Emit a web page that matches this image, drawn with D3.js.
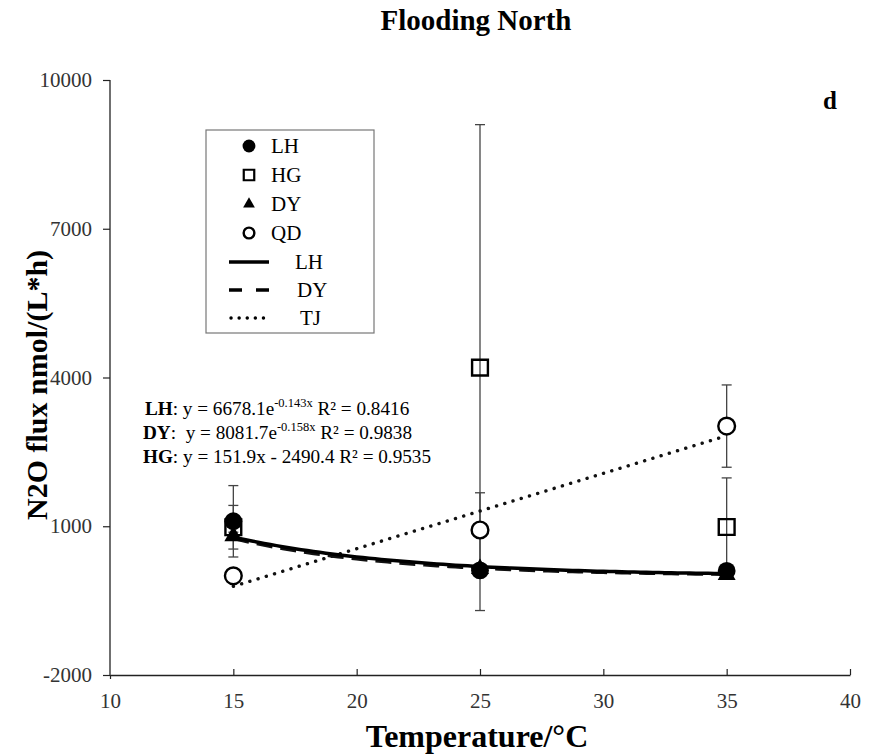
<!DOCTYPE html>
<html>
<head>
<meta charset="utf-8">
<script src="https://cdn.jsdelivr.net/npm/d3@7"></script>
<style>
  body { margin: 0; background: #fff; }
  text { font-family: "Liberation Serif", "Times New Roman", serif; white-space: pre; }
</style>
</head>
<body>
<div id="chart"></div>
<script>
// temperatures (x) and mean flux per site
const temps = [15, 25, 35];
const lhMean = [1100, 110, 100];
const lhErr = [720, 60, 60];
const hgMean = [980, 4200, 985];
const hgErr = [440, 4900, 990];
const dyMean = [800, 140, 20];
const dyErr = [80, 60, 40];
const qdMean = [0, 925, 3020];
const qdErr = [60, 750, 830];

// fitted trend lines (coefficients printed on chart)
const lhFit = [6678.1, -0.143];
const dyFit = [8081.7, -0.158];
const tjFit = [151.9, -2490.4];

const xTicks = [10, 15, 20, 25, 30, 35, 40];
const yTicks = [-2000, 1000, 4000, 7000, 10000];

const W = 879, H = 755;
const margin = { top: 80, right: 29, bottom: 80, left: 110 };

const svg = d3.select('#chart')
  .append('svg')
  .attr('width', W)
  .attr('height', H);

const x = d3.scaleLinear().domain([10, 40]).range([margin.left, W - margin.right]);
const y = d3.scaleLinear().domain([-2000, 10000]).range([H - margin.bottom, margin.top]);

// axes
const yAxis = svg.append('g')
  .attr('transform', `translate(${margin.left},0)`)
  .call(d3.axisLeft(y).tickValues(yTicks).tickSize(7).tickPadding(11).tickFormat(d => String(d)));
const xAxis = svg.append('g')
  .attr('transform', `translate(0,${H - margin.bottom})`)
  .call(d3.axisBottom(x).tickValues(xTicks).tickSize(-6).tickPadding(18).tickSizeOuter(0));

[xAxis, yAxis].forEach(a => {
  a.select('.domain').attr('stroke', '#222').attr('stroke-width', 1.3);
  a.selectAll('.tick line').attr('stroke', '#222').attr('stroke-width', 1.2);
  a.selectAll('.tick text')
    .attr('fill', '#333')
    .style('font-family', '"Liberation Serif", serif')
    .style('font-size', '21px');
});
yAxis.select('.domain').attr('d', `M0,${y(-2000)}V${y(10000)}`);
xAxis.select('.tick line').attr('y2', 4);

// titles
svg.append('text')
  .attr('x', 476).attr('y', 30)
  .attr('text-anchor', 'middle')
  .style('font-size', '29px').style('font-weight', 'bold')
  .text('Flooding North');

svg.append('text')
  .attr('x', 477).attr('y', 747)
  .attr('text-anchor', 'middle')
  .style('font-size', '32px').style('font-weight', 'bold')
  .text('Temperature/°C');

svg.append('text')
  .attr('transform', `translate(47,${y(3850)}) rotate(-90)`)
  .attr('text-anchor', 'middle')
  .style('font-size', '30px').style('font-weight', 'bold')
  .text('N2O flux nmol/(L*h)');

svg.append('text')
  .attr('x', 830).attr('y', 109)
  .attr('text-anchor', 'middle')
  .style('font-size', '25px').style('font-weight', 'bold')
  .text('d');

// error bars
const series = [
  { mean: hgMean, err: hgErr },
  { mean: qdMean, err: qdErr },
  { mean: lhMean, err: lhErr },
  { mean: dyMean, err: dyErr }
];
const errG = svg.append('g').attr('stroke', '#444').attr('stroke-width', 1.3);
series.forEach(s => {
  temps.forEach((t, i) => {
    const cx = x(t), hi = y(s.mean[i] + s.err[i]), lo = y(s.mean[i] - s.err[i]);
    errG.append('line').attr('x1', cx).attr('x2', cx).attr('y1', hi).attr('y2', lo);
    errG.append('line').attr('x1', cx - 5).attr('x2', cx + 5).attr('y1', hi).attr('y2', hi);
    errG.append('line').attr('x1', cx - 5).attr('x2', cx + 5).attr('y1', lo).attr('y2', lo);
  });
});

// trend lines
const fitX = d3.range(15, 35.001, 0.25);
const line = d3.line().x(d => x(d[0])).y(d => y(d[1]));

svg.append('path')
  .datum(fitX.map(v => [v, tjFit[0] * v + tjFit[1]]))
  .attr('d', line)
  .attr('fill', 'none').attr('stroke', '#111')
  .attr('stroke-width', 3.4).attr('stroke-linecap', 'round')
  .attr('stroke-dasharray', '0.1 8.5');

svg.append('path')
  .datum(fitX.map(v => [v, dyFit[0] * Math.exp(dyFit[1] * v)]))
  .attr('d', line)
  .attr('fill', 'none').attr('stroke', '#111')
  .attr('stroke-width', 3.5).attr('stroke-dasharray', '16 8');

svg.append('path')
  .datum(fitX.map(v => [v, lhFit[0] * Math.exp(lhFit[1] * v)]))
  .attr('d', line)
  .attr('fill', 'none').attr('stroke', '#000')
  .attr('stroke-width', 3.5);

// markers
const sym = (type, size) => d3.symbol().type(type).size(size)();
const marks = [
  { mean: hgMean, d: sym(d3.symbolSquare, 250), fill: 'none', stroke: '#000', sw: 2.4 },
  { mean: qdMean, d: sym(d3.symbolCircle, 220), fill: '#fff', stroke: '#000', sw: 2.4 },
  { mean: dyMean, d: sym(d3.symbolTriangle, 140), fill: '#000', stroke: 'none', sw: 0 },
  { mean: lhMean, d: sym(d3.symbolCircle, 250), fill: '#000', stroke: 'none', sw: 0 }
];
marks.forEach(m => {
  svg.append('g').selectAll('path')
    .data(temps)
    .enter()
    .append('path')
    .attr('transform', (t, i) => `translate(${x(t)},${y(m.mean[i])})`)
    .attr('d', m.d)
    .attr('fill', m.fill)
    .attr('stroke', m.stroke)
    .attr('stroke-width', m.sw);
});

// legend
const leg = svg.append('g');
leg.append('rect')
  .attr('x', 206).attr('y', 130).attr('width', 168).attr('height', 203)
  .attr('fill', '#fff').attr('stroke', '#777').attr('stroke-width', 1.2);

const legMarks = [
  { label: 'LH', d: sym(d3.symbolCircle, 130), fill: '#000', stroke: 'none', sw: 0 },
  { label: 'HG', d: sym(d3.symbolSquare, 110), fill: 'none', stroke: '#000', sw: 2.2 },
  { label: 'DY', d: sym(d3.symbolTriangle, 60), fill: '#000', stroke: 'none', sw: 0 },
  { label: 'QD', d: sym(d3.symbolCircle, 90), fill: 'none', stroke: '#000', sw: 2.4 }
];
legMarks.forEach((m, i) => {
  const ly = 146 + i * 29;
  leg.append('path')
    .attr('transform', `translate(249,${ly})`)
    .attr('d', m.d).attr('fill', m.fill).attr('stroke', m.stroke).attr('stroke-width', m.sw);
  leg.append('text')
    .attr('x', 271).attr('y', ly + 7)
    .style('font-size', '21px')
    .text(m.label);
});

const legLines = [
  { label: 'LH', dash: null, tx: 295 },
  { label: 'DY', dash: '13 14', tx: 297 },
  { label: 'TJ', dash: '0.1 8', tx: 300 }
];
legLines.forEach((l, i) => {
  const ly = 262 + i * 28;
  const p = leg.append('line')
    .attr('x1', 229).attr('x2', 269).attr('y1', ly).attr('y2', ly)
    .attr('stroke', '#000').attr('stroke-width', 3.5);
  if (l.dash) p.attr('stroke-dasharray', l.dash);
  if (l.label === 'TJ') p.attr('stroke-linecap', 'round').attr('x1', 231).attr('stroke-width', 3.4);
  leg.append('text')
    .attr('x', l.tx).attr('y', ly + 7)
    .style('font-size', '21px')
    .text(l.label);
});

// equations
const eqs = [
  { name: 'LH', pre: ': y = 6678.1e', sup: '-0.143x', post: ' R² = 0.8416', x: 145 },
  { name: 'DY', pre: ':  y = 8081.7e', sup: '-0.158x', post: ' R² = 0.9838', x: 143 },
  { name: 'HG', pre: ': y = 151.9x - 2490.4 R² = 0.9535', sup: null, post: '', x: 143 }
];
eqs.forEach((e, i) => {
  const t = svg.append('text')
    .attr('x', e.x).attr('y', 415 + i * 24)
    .style('font-size', '19.2px');
  t.append('tspan').style('font-weight', 'bold').text(e.name);
  t.append('tspan').text(e.pre);
  if (e.sup) {
    t.append('tspan').attr('dy', -8).style('font-size', '12.5px').text(e.sup);
    t.append('tspan').attr('dy', 8).text(e.post);
  }
});
</script>
</body>
</html>
